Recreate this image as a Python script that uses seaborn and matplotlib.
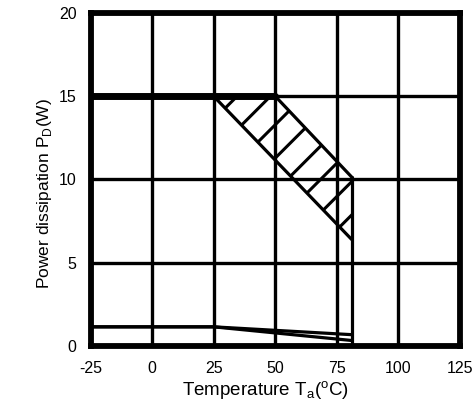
import numpy as np
import seaborn as sns
import matplotlib.pyplot as plt

# temperature axis (deg C) and power dissipation (W)
temp_ticks = [-25, 0, 25, 50, 75, 100, 125]
pd_ticks = [0, 5, 10, 15, 20]

# infinite heatsink: flat 15 W up to 50 C
flat_temp = [-25, 50]
flat_pd = [15, 15]

# hatched derating band
upper_temp = [25, 50, 81]
upper_pd = [15, 15, 10.15]
lower_temp = [25, 81]
lower_pd = [15, 6.4]

# cutoff at 81 C
cut_temp = [81, 81]
cut_pd = [10.15, 0]

# no heatsink curves
free_temp = [-25, 25, 81]
free_pd_a = [1.15, 1.15, 0.68]
free_pd_b = [1.15, 1.15, 0.33]

sns.set_theme(style="white")
plt.rcParams["font.family"] = ["Liberation Sans", "DejaVu Sans"]
plt.rcParams["axes.unicode_minus"] = False
plt.rcParams["hatch.linewidth"] = 2.2
plt.rcParams["mathtext.fontset"] = "custom"
plt.rcParams["mathtext.rm"] = "Liberation Sans"

fig = plt.figure(figsize=(4.74, 4.04), dpi=100)
ax = fig.add_axes([0.191, 0.1436, 0.7795, 0.8242])

lw = 2.3
line_kw = dict(ax=ax, color="black", sort=False, estimator=None)
sns.lineplot(x=flat_temp, y=flat_pd, lw=5, **line_kw)
sns.lineplot(x=upper_temp, y=upper_pd, lw=lw, **line_kw)
sns.lineplot(x=lower_temp, y=lower_pd, lw=lw, **line_kw)
sns.lineplot(x=cut_temp, y=cut_pd, lw=lw, **line_kw)
sns.lineplot(x=free_temp, y=free_pd_a, lw=lw, **line_kw)
sns.lineplot(x=free_temp, y=free_pd_b, lw=lw, **line_kw)

band_x = np.array(upper_temp, dtype=float)
ax.fill_between(band_x, np.interp(band_x, lower_temp, lower_pd),
                np.interp(band_x, upper_temp, upper_pd),
                facecolor="none", edgecolor="black", hatch="/", linewidth=0)

ax.set_xlim(-25, 125)
ax.set_ylim(0, 20)
ax.set_xticks(temp_ticks)
ax.set_xticklabels([str(t) for t in temp_ticks])
ax.set_yticks(pd_ticks)
ax.set_yticklabels([str(p) for p in pd_ticks])
ax.tick_params(length=0, labelsize=11.5, colors="black")
ax.tick_params(axis="x", pad=11)
ax.tick_params(axis="y", pad=10)
ax.grid(True, color="black", lw=2.4)
for s in ax.spines.values():
    s.set_color("black")
    s.set_linewidth(4.2)
ax.set_xlabel("")
ax.set_ylabel("")

fig.text(0.559, 0.0223, r"Temperature T$_\mathregular{a}$($\mathregular{^o}$C)",
         ha="center", va="baseline", fontsize=13.5, color="black")
fig.text(0.093, 0.52, r"Power dissipation P$_\mathregular{D}$(W)",
         ha="center", va="center", rotation=90, fontsize=12.5, color="black")

fig.savefig("out.png", dpi=100)
